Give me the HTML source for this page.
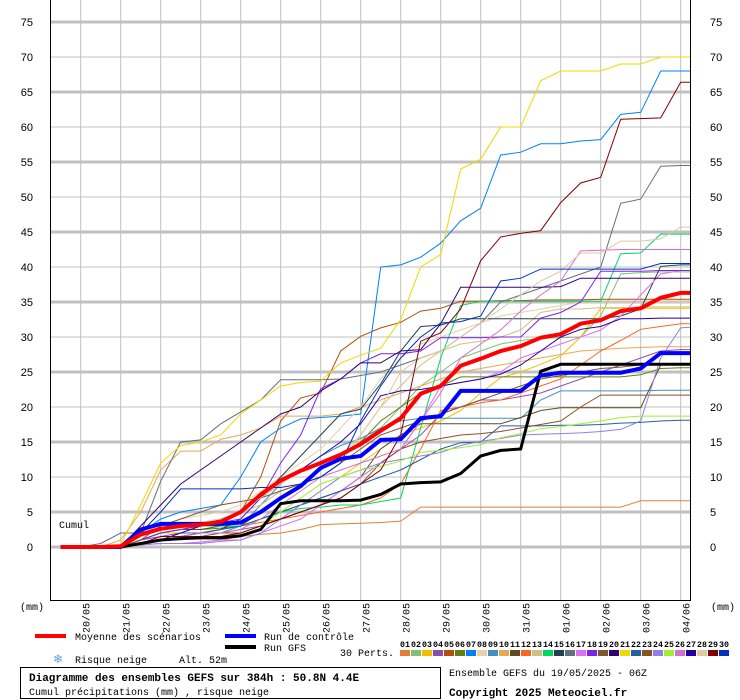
<!DOCTYPE html>
<html><head><meta charset="utf-8"><style>
html,body{margin:0;padding:0;background:#fff;}
svg{display:block;}
.mono{font-family:"Liberation Mono",monospace;}
.sans{font-family:"Liberation Sans",sans-serif;}
</style></head><body>
<svg id="chart" width="740" height="700" viewBox="0 0 740 700" xmlns="http://www.w3.org/2000/svg">
<defs><clipPath id="plotclip"><rect x="51" y="0" width="639" height="600"/></clipPath></defs>
<rect x="0" y="0" width="740" height="700" fill="#fff"/>
<g id="grid"></g>
<g id="series" clip-path="url(#plotclip)"></g>
<rect x="50.5" y="-1" width="640" height="601.5" fill="none" stroke="#000" stroke-width="1"/>
<g id="axes"></g>
<text class="mono" x="59" y="528" font-size="10">Cumul</text>
<text class="mono" x="20" y="610" font-size="10">(mm)</text>
<text class="mono" x="711" y="610" font-size="10">(mm)</text>

<g>
<line x1="35" y1="636" x2="66" y2="636" stroke="#ff0000" stroke-width="4"/>
<text class="mono" x="75" y="640" font-size="10">Moyenne des scénarios</text>
<line x1="225" y1="636" x2="256" y2="636" stroke="#0000ff" stroke-width="4"/>
<text class="mono" x="264" y="640" font-size="10">Run de contrôle</text>
<line x1="225" y1="647" x2="256" y2="647" stroke="#000" stroke-width="4"/>
<text class="mono" x="264" y="651" font-size="10">Run GFS</text>
<text class="mono" x="340" y="656" font-size="10">30 Perts.</text>
<text x="53" y="663" font-size="12" fill="#5aa0e8" class="sans">❄</text>
<text class="mono" x="75" y="663" font-size="10">Risque neige</text>
<text class="mono" x="179" y="663" font-size="10">Alt. 52m</text>
<g id="pertlegend"></g>
</g>
<rect x="20.5" y="667.5" width="420" height="31" fill="none" stroke="#000" stroke-width="1"/>
<text class="mono" x="29" y="681" font-size="11" font-weight="bold">Diagramme des ensembles GEFS sur 384h : 50.8N 4.4E</text>
<text class="mono" x="29" y="695" font-size="10">Cumul précipitations (mm) , risque neige</text>
<text class="mono" x="449" y="676" font-size="10">Ensemble GEFS du 19/05/2025 - 06Z</text>
<text class="mono" x="449" y="696" font-size="11" font-weight="bold">Copyright 2025 Meteociel.fr</text>
</svg>
<script>
const hours = [6,18,30,42,54,66,78,90,102,114,126,138,150,162,174,186,198,210,222,234,246,258,270,282,294,306,318,330,342,354,366,378,384];
const dayLabels = ["20/05","21/05","22/05","23/05","24/05","25/05","26/05","27/05","28/05","29/05","30/05","31/05","01/06","02/06","03/06","04/06"];
const yTicks = [0,5,10,15,20,25,30,35,40,45,50,55,60,65,70,75];
const meanValues = [0,0,0,0.1,1.8,2.6,3,3.2,3.6,5,7.5,9.5,10.9,12,13.2,14.7,16.6,18.4,21.9,23,25.9,26.9,28,28.7,29.9,30.4,31.9,32.4,33.7,34.1,35.6,36.3,36.3];
const controlValues = [0,0,0,0,2.5,3.3,3.3,3.3,3.3,3.5,5,7,8.7,11.3,12.6,13,15.3,15.4,18.4,18.7,22.3,22.3,22.3,22.3,24.5,24.9,24.9,24.9,24.9,25.5,27.7,27.7,27.7];
const gfsValues = [0,0,0,0,0.5,1,1.2,1.3,1.3,1.6,2.5,6.2,6.6,6.6,6.6,6.7,7.5,9,9.2,9.3,10.5,13,13.8,14,25.1,26.1,26.1,26.1,26.1,26.1,26.1,26.1,26.1];
const m01 = [0,0,0,0,0.3,0.5,0.5,0.7,1,1.5,1.8,2,2.5,3.2,3.3,3.4,3.5,3.7,5.7,5.7,5.7,5.7,5.7,5.7,5.7,5.7,5.7,5.7,5.7,6.6,6.6,6.6,6.6];
const m02 = [0,0,0,0,1,2,2.5,3,3,3.5,5,7,9,11,13,15,17,20,23,25,27,28,29,29.5,29.8,29.9,30,33,39,39.2,39.3,39.3,39.3];
const m03 = [0,0,0,0,1,2,2,2,2.5,3,4,5,6,8,10,12,14,16,17,18,19.5,22,24.2,25,26.1,27.3,30,34.1,34.1,34.1,34.1,34.1,34.1];
const m04 = [0,0,0,0,1,1.5,2,2,2,2.5,3,4,5,6,8,10,12,14,16,19,20,21,21,21.5,22,23,24,25,26,27,28,28.2,28.2];
const m05 = [0,0,0,0,1.5,2.5,3,3,3.5,5,10,18,21.3,22,28,30.1,31.3,32.1,33.7,34.1,35.1,35.1,35.2,35.2,35.3,35.3,35.3,35.4,35.4,35.4,35.4,35.4,35.4];
const m06 = [0,0,0,0,1,2,2.5,2.5,2.7,3,5,7,9,11,13,15,18,20,22,23,24.3,24.3,24.3,24.3,24.3,24.3,24.3,24.3,24.3,24.6,25.5,25.6,25.6];
const m07 = [0,0,0,0,2,4,5,5.5,6,10,15,17,18.3,18.5,18.7,19,40,40.3,41.4,43.4,46.6,48.4,56,56.4,57.6,57.6,58,58.2,61.8,62.1,68,68,68];
const m08 = [0,0,0,0,2,3,4,4.5,5,6,8,10,12,14,17,20,24,27,29,30,31,32,33,33.5,34,34.5,35,35,35,35,35,35,35];
const m09 = [0,0,0,0,0.5,1,1.5,2,2,3,6,9,11,13,14.5,15.5,17,18,18.4,18.4,18.4,18.4,18.4,18.4,21,22.3,22.3,22.3,22.3,22.3,22.4,22.4,22.4];
const m10 = [0,0,0,1,5,11,13.7,13.7,15.4,16,17,18.7,18.7,18.7,19,20,21,22,23,24,25,25.5,26,26.5,27,27.5,28,28.2,28.4,28.5,28.6,28.6,28.6];
const m11 = [0,0,0,0,1,2,2.5,2.5,3,3,4,5,6,7,8,10,14,16,17.6,17.6,17.6,17.6,17.6,18.5,19.5,19.9,19.9,19.9,19.9,19.9,26,26.2,26.2];
const m12 = [0,0,0,0,0.5,1,1.5,2,2.5,3,3.5,4,4.5,5,5.5,6,7,9,14,19.5,20,20.6,21,22,23,24,26,28,29.5,31.1,31.5,31.9,31.9];
const m13 = [0,0,0,0,1,2,2.5,3,3.5,5,6,8,9,10,12,16,20,23,26,28,29,29.4,30,31,33.5,34,34,34.2,34.2,34.3,34.3,34.3,34.3];
const m14 = [0,0,0,0,1,2,2.5,3,3,3,4,5,5.5,5.7,6,6,6.5,7,17,27,34.5,35.1,35.1,35.1,35.1,35.1,35.1,35.1,41.9,42,44.7,44.7,44.7];
const m15 = [0,0,0,0,0.5,1,1.5,2,2.5,4,7,10,13,16,19,19.7,23.3,28,31.5,31.7,32.6,32.6,32.6,32.6,32.6,32.6,32.6,32.6,33,34,40.1,40.3,40.3];
const m16 = [0,0,0.5,2,2,9.4,15,15.3,17.6,19.3,21,23.9,23.9,23.9,24,24.5,25,26,27,28,30,32,35,36,37,38,39,40,49.1,49.7,54.4,54.5,54.5];
const m17 = [0,0,0,0,0.3,0.5,0.5,0.7,1,1,2,3,4,6,8,10,12,14,18,23,23.5,24,25,27,28,29,30,31,33,36,39,39.5,39.5];
const m18 = [0,0,0,0,1,2,2.5,3,3.5,4,7,12,16,22.6,24,26.3,27.6,27.6,28,29.9,29.9,29.9,30,30,32.7,33.5,35,39.4,39.4,39.4,39.5,39.5,39.5];
const m19 = [0,0,0,0,1,3,4,5,6,6.5,7,8,9,10,12,14,16,17,18,19,20,21,22,23,24,24.5,25,25.5,25.7,26,26,26,26];
const m20 = [0,0,0,0,3,6,9,11,13,15,17,19,20,22.3,24,26.3,26.3,28,28.2,31.9,37.1,37.1,37.1,37.1,37.1,37.2,38.4,38.4,38.4,38.4,38.4,38.4,38.4];
const m21 = [0,0,0,0.3,6,12,14.5,15,16,19,21,23,23.5,23.7,26.3,27.4,28.4,32.5,40,41.8,54,55.4,60,60,66.6,68,68,68,69,69,70,70,70];
const m22 = [0,0,0,0,0.5,1,1.5,2,2.5,3,4,5,6,7,8,9,10,11,12.5,14,14.9,15,17.3,17.3,17.3,17.4,17.4,17.5,17.7,17.8,18,18.1,18.1];
const m23 = [0,0,0,0,0.5,1,1,1.5,2,2,3,4,5,6,7,9,12,14,15,15.5,16,16.2,16.5,17,17.5,18,20,21.7,21.7,21.7,21.7,21.7,21.7];
const m24 = [0,0,0,0,0.3,0.5,0.5,0.5,0.8,1,2,4,6,8,10,11,12,12.5,13,13.5,14.5,15.1,15.5,16,16.1,16.2,16.3,16.5,16.8,18,27,31.3,31.4];
const m25 = [0,0,0,0,0.5,1,1,1.5,1.5,2,3,5,7,9,10,11,11.5,12.3,13.5,13.8,14.2,14.6,15.6,16.2,16.9,17.2,17.6,18,18.5,18.7,18.7,18.7,18.7];
const m26 = [0,0,0,0,0.5,1,1.5,2,2,2.5,4,6,8,10,11,12,13,14,18,22,27,29,31,33.7,36,38,42.3,42.4,42.5,42.5,42.5,42.5,42.5];
const m27 = [0,0,0,0,0.5,1,2,3,4,5,7,9,11,13,15,17.6,21.6,22.3,22.5,23,23.5,24,24.7,26,28,30,31.1,31.5,32.6,32.6,32.7,32.7,32.7];
const m28 = [0,0,0,0,1.5,2.5,3,3.5,4,5,7,9,11,12,13,16,20,25,27,28,30,32,34,36,38,39.4,42,42,43.7,43.7,44,45.7,45.7];
const m29 = [0,0,0,0,0.5,1.5,1.5,1.5,1.5,2,3,4,5,6,7,9,11,16,29.4,30.6,34,40.9,44.3,44.8,45.2,49.2,52,52.8,61.1,61.2,61.3,66.4,66.4];
const m30 = [0,0,0,0,2,5,8.3,8.3,8.3,8.3,8.5,8.5,9,10,12,18,23,27,30,32,32.2,33,38,38.4,39.7,39.7,39.7,39.7,39.7,39.7,40.5,40.5,40.5];
const memberColors = ["#e08030","#80c070","#f0c000","#8850a8","#b05010","#608010","#0080ff","#e8d0a8","#4090c0","#e8a850","#604a20","#f86820","#d0c080","#00d860","#204050","#607080","#e070f0","#8020f0","#805830","#300070","#f0d800","#2060a0","#905020","#9080e8","#a0f030","#d070d0","#2000a0","#e0c8a0","#800000","#0030c0"];
const members = [m01,m02,m03,m04,m05,m06,m07,m08,m09,m10,m11,m12,m13,m14,m15,m16,m17,m18,m19,m20,m21,m22,m23,m24,m25,m26,m27,m28,m29,m30];

const NS = "http://www.w3.org/2000/svg";
function xScale(h){ return 50.7 + h * 40 / 24; }
function yScale(v){ return 547 - v * 7; }
function mk(tag, attrs, parent){
  const e = document.createElementNS(NS, tag);
  for (const k in attrs) e.setAttribute(k, attrs[k]);
  parent.appendChild(e);
  return e;
}
const grid = document.getElementById('grid');
const axes = document.getElementById('axes');
const series = document.getElementById('series');
const pl = document.getElementById('pertlegend');

// day gridlines + labels
dayLabels.forEach(function(lab, i){
  const x = xScale(18 + 24 * i);
  const ln = mk('line', {x1:x, y1:0, x2:x, y2:600, stroke:'#c0c0c0', 'stroke-width':1}, grid);
  
  
  const t = mk('text', {x:0, y:0, 'font-size':10, 'class':'mono', 'text-anchor':'end', transform:'translate(' + (x + 9) + ',603) rotate(-90)'}, axes);
  t.textContent = lab;
  
  
});
// horizontal gridlines + y labels
yTicks.forEach(function(v){
  const y = yScale(v);
  const thick = (v % 10 === 5) || v === 0;
  const ln = mk('line', {x1:51, y1:y, x2:690, y2:y, stroke:'#c0c0c0', 'stroke-width': thick ? 3 : 1}, grid);
  
  
  const tl = mk('text', {x:33, y:y + 4, 'font-size':11, 'class':'sans', 'text-anchor':'end'}, axes);
  tl.textContent = String(v);
  
  
  const tr = mk('text', {x:710, y:y + 4, 'font-size':11, 'class':'sans'}, axes);
  tr.textContent = String(v);
  
  
});
function pts(vals){ return vals.map(function(v, i){ return xScale(hours[i]).toFixed(1) + ',' + yScale(v).toFixed(1); }).join(' '); }
members.forEach(function(vals, i){
  const p = mk('polyline', {points:pts(vals), fill:'none', stroke:memberColors[i], 'stroke-width':1}, series);
  
  
});
const g1 = mk('polyline', {points:pts(gfsValues), fill:'none', stroke:'#000', 'stroke-width':3}, series);


const c1 = mk('polyline', {points:pts(controlValues), fill:'none', stroke:'#0000ff', 'stroke-width':4}, series);


const r1 = mk('polyline', {points:pts(meanValues), fill:'none', stroke:'#ff0000', 'stroke-width':4}, series);



// perturbation legend
memberColors.forEach(function(c, i){
  const x = 400 + i * 11;
  const t = mk('text', {x:x + 5, y:647, 'font-size':8, 'font-weight':'bold', 'class':'mono', 'text-anchor':'middle', 'textLength':10, 'lengthAdjust':'spacingAndGlyphs'}, pl);
  t.textContent = String(i + 1).padStart(2, '0');
  
  
  const r = mk('rect', {x:x, y:650, width:10, height:6, fill:c}, pl);
  
  
});
</script>
</body></html>
